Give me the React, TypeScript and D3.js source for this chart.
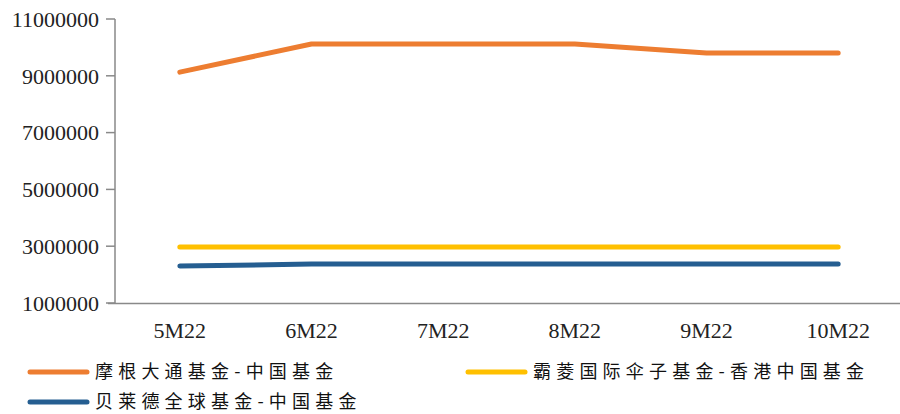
import { useEffect, useRef } from 'react';
import * as d3 from 'd3';

// ── Data ──

const MONTHS = ['5M22', '6M22', '7M22', '8M22', '9M22', '10M22'];
const JPM_CHINA = [9130000, 10120000, 10120000, 10120000, 9800000, 9800000];
const BARINGS_HK_CHINA = [2970000, 2970000, 2970000, 2970000, 2970000, 2970000];
const BLACKROCK_CHINA = [2300000, 2370000, 2370000, 2370000, 2370000, 2370000];
const Y_TICKS = [1000000, 3000000, 5000000, 7000000, 9000000, 11000000];

const SERIES = [
  { name: '摩根大通基金-中国基金', color: '#ED7D31', values: JPM_CHINA },
  { name: '霸菱国际伞子基金-香港中国基金', color: '#FFC000', values: BARINGS_HK_CHINA },
  { name: '贝莱德全球基金-中国基金', color: '#255E91', values: BLACKROCK_CHINA },
];

const W = 900;
const H = 414;
const AXIS_COLOR = '#898989';
const SERIF = '"Liberation Serif", "DejaVu Serif", serif';
const CJK = '"Noto Sans CJK SC", sans-serif';

export default function App() {
  const svgRef = useRef<SVGSVGElement>(null);

  useEffect(() => {
    const svgEl = svgRef.current;
    if (!svgEl) return;
    const svg = d3.select(svgEl);
    svg.selectAll('*').remove();

    const x = d3.scaleBand<string>().domain(MONTHS).range([114, 904]);
    const y = d3.scaleLinear().domain([1000000, 11000000]).range([303, 19]);
    const cx = (m: string) => (x(m) ?? 0) + x.bandwidth() / 2;

    // y axis
    const yAxis = svg.append('g').attr('transform', 'translate(115,0)');
    yAxis
      .append('line')
      .attr('y1', y(11000000))
      .attr('y2', y(1000000))
      .attr('stroke', AXIS_COLOR)
      .attr('stroke-width', 1.5);
    const yt = yAxis
      .selectAll('.yt')
      .data(Y_TICKS)
      .enter()
      .append('g')
      .attr('transform', (d) => `translate(0,${y(d)})`);
    yt.append('line').attr('x1', -9).attr('x2', 0).attr('stroke', AXIS_COLOR).attr('stroke-width', 1.5);
    yt.append('text')
      .attr('x', -16)
      .attr('dy', '0.35em')
      .attr('text-anchor', 'end')
      .attr('font-family', SERIF)
      .attr('font-size', 22)
      .attr('fill', '#222')
      .text((d) => String(d));

    // x axis
    svg
      .append('line')
      .attr('x1', 108)
      .attr('x2', W)
      .attr('y1', 303.5)
      .attr('y2', 303.5)
      .attr('stroke', AXIS_COLOR)
      .attr('stroke-width', 1.5);
    svg
      .selectAll('.xt')
      .data(MONTHS)
      .enter()
      .append('text')
      .attr('x', (d) => cx(d))
      .attr('y', 338)
      .attr('text-anchor', 'middle')
      .attr('font-family', SERIF)
      .attr('font-size', 22)
      .attr('fill', '#222')
      .text((d) => d);

    // lines
    const line = d3
      .line<number>()
      .x((_, i) => cx(MONTHS[i]))
      .y((d) => y(d));
    svg
      .selectAll('.series')
      .data(SERIES)
      .enter()
      .append('path')
      .attr('fill', 'none')
      .attr('stroke', (d) => d.color)
      .attr('stroke-width', 5)
      .attr('stroke-linecap', 'round')
      .attr('stroke-linejoin', 'round')
      .attr('d', (d) => line(d.values));

    // legend
    const legendPos = [
      { x: 30, y: 372 },
      { x: 468, y: 372 },
      { x: 30, y: 402 },
    ];
    const lg = svg
      .selectAll('.legend')
      .data(SERIES)
      .enter()
      .append('g')
      .attr('transform', (_, i) => `translate(${legendPos[i].x},${legendPos[i].y})`);
    lg.append('line')
      .attr('x1', 0)
      .attr('x2', 57)
      .attr('stroke', (d) => d.color)
      .attr('stroke-width', 5)
      .attr('stroke-linecap', 'round');
    lg.append('text')
      .attr('x', 65)
      .attr('dy', '0.34em')
      .attr('font-family', CJK)
      .attr('font-size', 18)
      .attr('letter-spacing', 5.2)
      .attr('fill', '#111')
      .text((d) => d.name);
  }, []);

  return (
    <svg
      ref={svgRef}
      width={W}
      height={H}
      style={{ position: 'absolute', left: 0, top: 0, display: 'block', background: '#fff' }}
    />
  );
}
